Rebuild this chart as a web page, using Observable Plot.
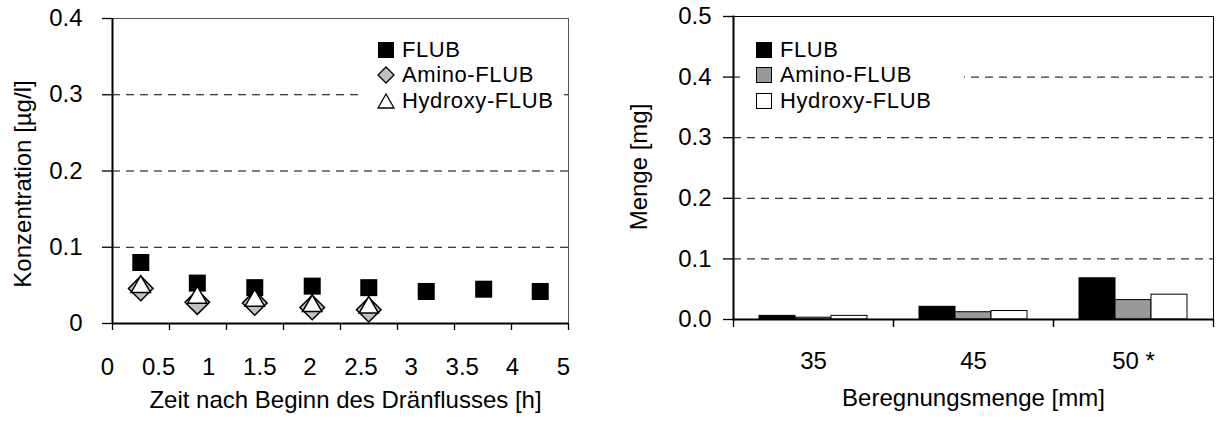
<!DOCTYPE html>
<html><head><meta charset="utf-8">
<script src="https://cdn.jsdelivr.net/npm/d3@7"></script>
<script src="https://cdn.jsdelivr.net/npm/@observablehq/plot@0.6"></script>
<style>
body{margin:0;background:#fff;font-family:"Liberation Sans",Arial,sans-serif;}
#wrap{position:relative;width:1219px;height:423px;overflow:hidden;background:#fff}
#left{position:absolute;left:0;top:0}
#right{position:absolute;left:590px;top:0}
.legend{position:absolute;background:#fff;font-size:22px;letter-spacing:0.6px;color:#000}
.legend .row{display:flex;align-items:center;height:25.5px;white-space:nowrap}
.legend svg{margin-right:6px;flex:none}
</style></head><body>
<div id="wrap"><div id="left"></div><div id="right"></div>
<div class="legend" id="legL" style="left:364px;top:37px;width:200px;padding-left:12px;box-sizing:border-box"></div>
<div class="legend" id="legR" style="left:740px;top:37px;width:224px;padding-left:14px;box-sizing:border-box"></div>
</div>
<script>
// ---- Left chart data ----
const seriesNames = ["FLUB", "Amino-FLUB", "Hydroxy-FLUB"];
const timeFlub = [0.31, 0.93, 1.56, 2.19, 2.81, 3.44, 4.07, 4.69];
const concFlub = [0.080, 0.053, 0.047, 0.049, 0.047, 0.042, 0.045, 0.042];
const timeMetab = [0.31, 0.93, 1.56, 2.19, 2.81];
const concAmino = [0.046, 0.028, 0.027, 0.021, 0.018];
const concHydroxy = [0.048, 0.034, 0.030, 0.023, 0.021];
const xTickMarks = [0, 0.625, 1.25, 1.875, 2.5, 3.125, 3.75, 4.375, 5];
const xLabelPos = [0, 0.56, 1.11, 1.67, 2.22, 2.78, 3.33, 3.89, 4.44, 5];
const xLabels = ["0", "0.5", "1", "1.5", "2", "2.5", "3", "3.5", "4", "5"];
const yTicksL = [0, 0.1, 0.2, 0.3, 0.4];
const yLabelsL = ["0", "0.1", "0.2", "0.3", "0.4"];
const yGridL = [0.1, 0.2, 0.3];
const xTitleL = "Zeit nach Beginn des Dränflusses [h]";
const yTitleL = "Konzentration [µg/l]";

// ---- Right chart data ----
const rainCats = ["35", "45", "50 *"];
const mengeFlub = [0.006, 0.021, 0.068];
const mengeAmino = [0.003, 0.012, 0.032];
const mengeHydroxy = [0.006, 0.014, 0.041];
const yTicksR = [0, 0.1, 0.2, 0.3, 0.4, 0.5];
const yLabelsR = ["0.0", "0.1", "0.2", "0.3", "0.4", "0.5"];
const yGridR = [0.1, 0.2, 0.3, 0.4];
const xTitleR = "Beregnungsmenge [mm]";
const yTitleR = "Menge [mg]";

const FONT = '"Liberation Sans", Arial, sans-serif';
const FS = 24;
const dash = {stroke: "#000", strokeWidth: 1, strokeDasharray: "8,6"};

const flubData = timeFlub.map((t, i) => ({t, v: concFlub[i]}));
const aminoData = timeMetab.map((t, i) => ({t, v: concAmino[i]}));
const hydroxyData = timeMetab.map((t, i) => ({t, v: concHydroxy[i]}));
const xLabelMap = new Map(xLabelPos.map((p, i) => [p, xLabels[i]]));
const yLabelMapL = new Map(yTicksL.map((p, i) => [p, yLabelsL[i]]));
const yLabelMapR = new Map(yTicksR.map((p, i) => [p, yLabelsR[i]]));

const left = Plot.plot({
  width: 590, height: 423,
  marginLeft: 112, marginRight: 22, marginTop: 18, marginBottom: 100,
  style: {fontFamily: FONT, fontSize: FS + "px", color: "#000", background: "transparent"},
  x: {domain: [0, 5]},
  y: {domain: [0, 0.4]},
  marks: [
    Plot.ruleY(yGridL, dash),
    Plot.ruleY([0.4], {stroke: "#555", strokeWidth: 1}),
    Plot.ruleX([5], {stroke: "#555", strokeWidth: 1}),
    Plot.ruleX([0], {stroke: "#000", strokeWidth: 2}),
    Plot.ruleY([0], {stroke: "#000", strokeWidth: 2}),
    Plot.axisY({ticks: yTicksL, tickSize: 10, tickPadding: 20, tickFormat: d => yLabelMapL.get(d), fontSize: FS, label: null, strokeWidth: 1.3}),
    Plot.axisX({ticks: xTickMarks, tickSize: 7, tickFormat: () => "", label: null, strokeWidth: 1.3}),
    Plot.axisX({ticks: xLabelPos, tickSize: 0, tickPadding: 34, tickFormat: d => xLabelMap.get(d), dx: -5, fontSize: FS, label: null}),
    Plot.text([xTitleL], {frameAnchor: "bottom", dy: 84, fontSize: FS, textAnchor: "middle", dx: 5, style: "letter-spacing:0.4px"}),
    Plot.text([yTitleL], {frameAnchor: "left", textAnchor: "middle", dx: -89, dy: 13, rotate: -90, fontSize: FS}),
    Plot.dot(flubData, {x: "t", y: "v", symbol: "square", r: 9.6, fill: "#000", stroke: "none"}),
    Plot.dot(aminoData, {x: "t", y: "v", symbol: "square", rotate: 45, r: 9.8, fill: "#c0c0c0", stroke: "#000", strokeWidth: 1.5}),
    Plot.dot(hydroxyData, {x: "t", y: "v", symbol: "triangle", r: 7.2, fill: "#fff", stroke: "#000", strokeWidth: 1.5})
  ]
});
document.getElementById("left").appendChild(left);

const RW = 629, RML = 143, RMR = 6;
const bw = (RW - RML - RMR) / rainCats.length;
const barW = bw * 0.225;
const outer = (bw - 3 * barW) / 2;
const barSpecs = [
  {vals: mengeFlub, fill: "#000"},
  {vals: mengeAmino, fill: "#999999"},
  {vals: mengeHydroxy, fill: "#ffffff"}
];
const barMarks = barSpecs.map((s, k) => Plot.barY(
  rainCats.map((c, i) => ({c, v: s.vals[i]})),
  {x: "c", y: "v", fill: s.fill, stroke: "#000", strokeWidth: 1,
   insetLeft: outer + k * barW, insetRight: bw - outer - (k + 1) * barW}
));

const right = Plot.plot({
  width: RW, height: 423,
  marginLeft: RML, marginRight: RMR, marginTop: 16, marginBottom: 104,
  style: {fontFamily: FONT, fontSize: FS + "px", color: "#000", background: "transparent"},
  x: {domain: rainCats, padding: 0},
  y: {domain: [0, 0.5]},
  marks: [
    Plot.ruleY(yGridR, dash),
    ...barMarks,
    Plot.frame({stroke: "#000", strokeWidth: 1}),
    Plot.ruleY([0], {stroke: "#000", strokeWidth: 2}),
    Plot.frame({anchor: "left", stroke: "#000", strokeWidth: 2}),
    Plot.axisY({ticks: yTicksR, tickFormat: d => yLabelMapR.get(d), tickSize: 10, tickPadding: 12, fontSize: FS, label: null, strokeWidth: 1.3}),
    Plot.axisX({ticks: rainCats, tickSize: 0, tickPadding: 32, fontSize: FS, label: null}),
    Plot.axisX({ticks: rainCats, tickSize: 8, tickFormat: () => "", dx: -bw / 2, label: null, strokeWidth: 1.3}),
    Plot.axisX({ticks: rainCats, tickSize: 8, tickFormat: () => "", dx: bw / 2, label: null, strokeWidth: 1.3}),
    Plot.text([xTitleR], {frameAnchor: "bottom", dy: 86, fontSize: FS, textAnchor: "middle", style: "letter-spacing:0.4px"}),
    Plot.text([yTitleR], {frameAnchor: "left", textAnchor: "middle", dx: -94, dy: -1, rotate: -90, fontSize: FS})
  ]
});
document.getElementById("right").appendChild(right);

// ---- Legends (HTML text) ----
const legSymL = [
  '<svg width="20" height="20"><rect x="2" y="2" width="16" height="16" fill="#000"/></svg>',
  '<svg width="20" height="20"><polygon points="10,2 18,10 10,18 2,10" fill="#c0c0c0" stroke="#000" stroke-width="1.3"/></svg>',
  '<svg width="20" height="20"><polygon points="10,3 18,17 2,17" fill="#fff" stroke="#000" stroke-width="1.3"/></svg>'
];
const legSymR = [
  '<svg width="20" height="20"><rect x="2.5" y="2.5" width="15" height="15" fill="#000" stroke="#000"/></svg>',
  '<svg width="20" height="20"><rect x="2.5" y="2.5" width="15" height="15" fill="#999999" stroke="#000"/></svg>',
  '<svg width="20" height="20"><rect x="2.5" y="2.5" width="15" height="15" fill="#fff" stroke="#000"/></svg>'
];
document.getElementById("legL").innerHTML = seriesNames.map((n, i) => `<div class="row">${legSymL[i]}<span>${n}</span></div>`).join("");
document.getElementById("legR").innerHTML = seriesNames.map((n, i) => `<div class="row">${legSymR[i]}<span>${n}</span></div>`).join("");
</script>
</body></html>
